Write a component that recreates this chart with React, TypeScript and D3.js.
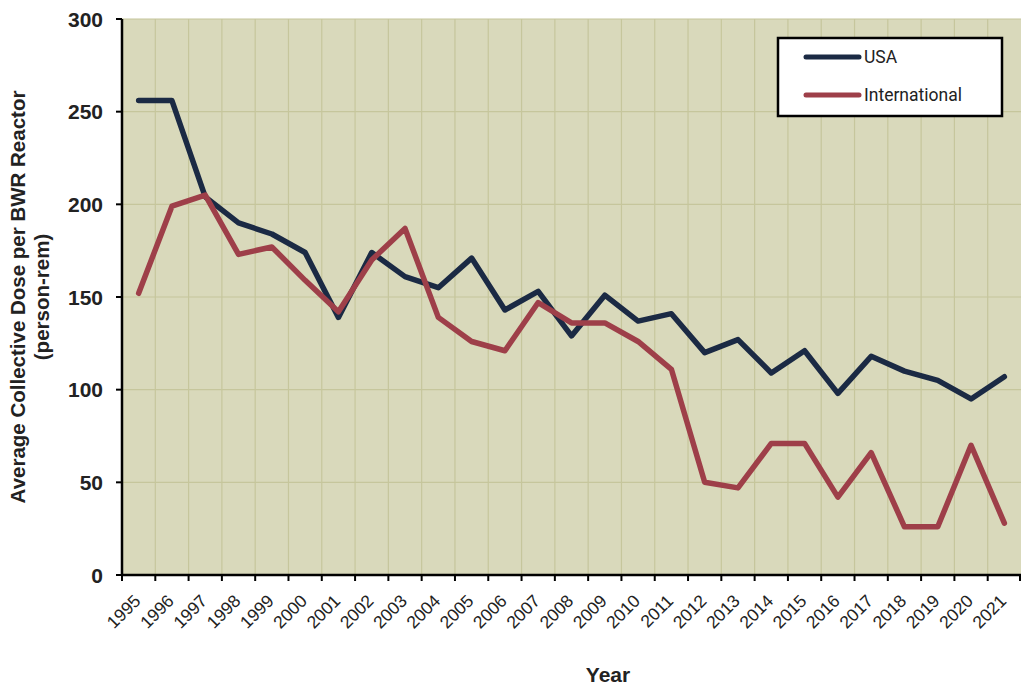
import React from "react";
import * as d3 from "d3";

const years = ["1995","1996","1997","1998","1999","2000","2001","2002","2003","2004","2005","2006","2007","2008","2009","2010","2011","2012","2013","2014","2015","2016","2017","2018","2019","2020","2021"];
const usa = [256,256,204,190,184,174,139,174,161,155,171,143,153,129,151,137,141,120,127,109,121,98,118,110,105,95,107];
const intl = [152,199,205,173,177,159,142,170,187,139,126,121,147,136,136,126,111,50,47,71,71,42,66,26,26,70,28];
const yTicks = [0,50,100,150,200,250,300];

const W = 1021, H = 688;
const left = 122, right = 1021, top = 19, bottom = 575;

export default function App() {
  const x = d3.scaleBand<string>().domain(years).range([left, right]).padding(0);
  const y = d3.scaleLinear().domain([0, 300]).range([bottom, top]);
  const cx = (d: string) => (x(d) as number) + x.bandwidth() / 2;
  const line = d3.line<number>().x((_, i) => cx(years[i])).y((v) => y(v));
  const font = "'Liberation Sans', Arial, sans-serif";
  const grid = "#c6c69c";
  return (
    <svg width={W} height={H} style={{ position: "absolute", left: 0, top: 0, background: "#fff" }}>
      <rect x={left} y={top} width={right - left} height={bottom - top} fill="#d9d9bb" />
      {yTicks.slice(1).map((t) => (
        <line key={"gy" + t} x1={left} x2={right} y1={y(t)} y2={y(t)} stroke={grid} strokeWidth={1.2} />
      ))}
      {years.slice(1).map((yr) => (
        <line key={"gx" + yr} x1={x(yr)} x2={x(yr)} y1={top} y2={bottom} stroke={grid} strokeWidth={1.2} />
      ))}
      <path d={line(usa) || ""} fill="none" stroke="#1b2a44" strokeWidth={5.5} strokeLinejoin="round" strokeLinecap="round" />
      <path d={line(intl) || ""} fill="none" stroke="#9e3f49" strokeWidth={5.5} strokeLinejoin="round" strokeLinecap="round" />
      {/* axes */}
      <line x1={left} x2={left} y1={top} y2={bottom} stroke="#000" strokeWidth={2.5} />
      <line x1={left} x2={right} y1={bottom} y2={bottom} stroke="#000" strokeWidth={2.5} />
      {yTicks.map((t) => (
        <g key={"yt" + t}>
          <line x1={left - 6} x2={left} y1={y(t)} y2={y(t)} stroke="#000" strokeWidth={2} />
          <text x={left - 19} y={y(t)} dy="0.36em" textAnchor="end" fontFamily={font} fontWeight="bold" fontSize={21} fill="#222">{t}</text>
        </g>
      ))}
      {years.map((yr) => (
        <line key={"xt" + yr} x1={x(yr)} x2={x(yr)} y1={bottom} y2={bottom + 6} stroke="#000" strokeWidth={2} />
      ))}
      <line x1={right - 1} x2={right - 1} y1={bottom} y2={bottom + 6} stroke="#000" strokeWidth={2} />
      {years.map((yr) => (
        <text key={"xl" + yr} transform={`translate(${cx(yr) + 3},${bottom + 27}) rotate(-45)`} textAnchor="end" fontFamily={font} fontSize={17.5} fill="#222">{yr}</text>
      ))}
      <text x={608} y={682} textAnchor="middle" fontFamily={font} fontWeight="bold" fontSize={21} fill="#222">Year</text>
      <g transform={`translate(25,${(top + bottom) / 2}) rotate(-90)`}>
        <text x={0} y={0} textAnchor="middle" fontFamily={font} fontWeight="bold" fontSize={20.5} fill="#222">Average Collective Dose per BWR Reactor</text>
        <text x={0} y={24} textAnchor="middle" fontFamily={font} fontWeight="bold" fontSize={20.5} fill="#222">(person-rem)</text>
      </g>
      {/* legend */}
      <rect x={778} y={38} width={224} height={78} fill="#fff" stroke="#000" strokeWidth={2.5} />
      <line x1={806} x2={859} y1={57} y2={57} stroke="#1b2a44" strokeWidth={5} strokeLinecap="round" />
      <line x1={806} x2={859} y1={95} y2={95} stroke="#9e3f49" strokeWidth={5} strokeLinecap="round" />
      <text x={864} y={57} dy="0.36em" fontFamily="Roboto, sans-serif" fontSize={17.5} fill="#222">USA</text>
      <text x={864} y={95} dy="0.36em" fontFamily="Roboto, sans-serif" fontSize={17.5} fill="#222">International</text>
    </svg>
  );
}
